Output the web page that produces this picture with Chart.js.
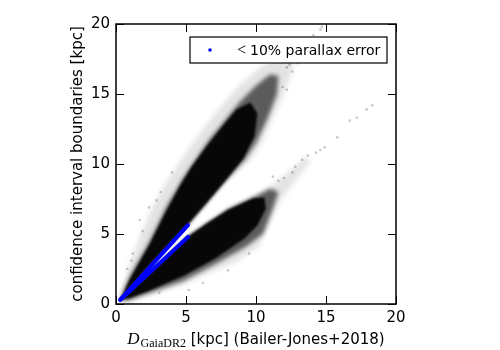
<!DOCTYPE html>
<html>
<head>
<meta charset="utf-8">
<title>Chart</title>
<script src="https://cdn.jsdelivr.net/npm/chart.js"></script>
<style>
    body { margin: 0; background: #fff; }
    #wrap { width: 500px; height: 350px; }
</style>
</head>
<body>
<div id="wrap"><canvas id="myChart"></canvas></div>
<script>
    const xTicks = [0, 5, 10, 15, 20];
    const yTicks = [0, 5, 10, 15, 20];

    // outlines of the dense parts of the two clouds, [D, boundary] in kpc
    const upperHalo = [[0.3,0.3],[0.5,1.3],[1.0,2.9],[1.7,4.8],[2.5,6.7],[3.5,8.5],[4.7,10.4],[6.0,12.2],[7.4,14.0],[8.8,15.6],[10.2,16.8],[11.4,17.6],[12.4,18.1],[12.8,17.6],[12.5,16.4],[11.9,14.8],[11.1,13.0],[10.4,11.5],[9.7,10.4],[8.5,9.3],[7.4,8.4],[6.3,7.1],[5.14,5.7],[3.5,3.95],[2.0,2.3],[0.3,0.3]];
    const upperMid = [[0.3,0.35],[1.0,2.0],[2.36,4.4],[3.57,6.9],[4.8,9.0],[5.6,10.2],[6.7,11.8],[7.6,12.9],[8.8,14.4],[10.0,15.6],[11.0,16.4],[11.6,16.3],[11.5,15.0],[10.8,13.2],[10.0,11.5],[9.2,10.3],[7.86,8.86],[6.5,7.25],[5.14,5.68],[3.5,3.93],[2.0,2.28],[0.3,0.3]];
    const upperCore = [[0.35,0.4],[1.0,1.8],[2.36,4.2],[3.57,6.6],[4.6,8.5],[5.4,9.8],[6.5,11.3],[7.6,12.7],[8.6,13.9],[9.6,14.4],[10.1,13.6],[9.9,12.0],[9.1,10.4],[7.86,8.86],[6.5,7.25],[5.14,5.68],[3.5,3.93],[2.0,2.28],[0.35,0.35]];

    const lowerHalo = [[0.3,0.3],[2.0,1.8],[3.5,3.22],[5.14,4.8],[6.5,5.72],[8.0,6.72],[10.0,7.75],[11.2,8.5],[12.4,9.5],[13.5,10.5],[13.9,10.2],[12.8,8.8],[11.8,7.5],[11.0,5.8],[10.2,4.1],[8.6,3.0],[7.1,2.4],[4.8,1.35],[2.36,0.62],[1.0,0.2],[0.3,0.2]];
    const lowerMid = [[0.3,0.3],[2.0,1.82],[3.5,3.24],[5.14,4.82],[6.5,5.76],[8.0,6.76],[10.0,7.72],[11.0,8.25],[11.6,8.0],[11.2,6.8],[10.5,5.0],[9.3,4.1],[7.1,2.85],[4.8,1.65],[2.36,0.78],[1.0,0.3],[0.3,0.24]];
    const lowerCore = [[0.35,0.32],[2.0,1.82],[3.5,3.24],[5.14,4.82],[6.5,5.76],[8.0,6.74],[9.8,7.55],[10.6,7.6],[10.7,6.8],[10.1,5.6],[9.2,4.7],[7.1,3.25],[4.8,2.0],[2.36,0.95],[1.0,0.42],[0.35,0.28]];

    // scattered stars outside the dense parts
    const sparseStars = [[12.2,16.9],[12.4,17.1],[12.6,16.6],[11.9,15.5],[12.2,15.3],[12.8,17.6],[13.2,18.0],[13.5,18.5],[13.7,18.8],[14.1,19.2],[14.6,19.6],[14.7,19.8],[13.0,17.2],
        [11.2,9.1],[11.6,8.8],[12.0,9.0],[12.6,9.4],[12.8,9.8],[13.3,10.3],[13.7,10.6],[14.3,10.8],[14.6,11.0],[14.9,11.2],[15.8,11.9],[16.7,13.1],[17.2,13.3],[17.9,13.9],[18.3,14.2],
        [1.2,3.6],[2.36,6.9],[1.7,6.0],[2.9,7.4],[1.1,3.1],[3.1,0.8],[6.2,1.5],[0.8,2.5],[1.9,5.2],[3.2,8.0],[4.0,9.4],[8.0,2.4],[9.5,3.6],[5.2,1.0]];

    // stars with < 10% parallax error: upper and lower boundary
    const goodUpper = [[0.3,0.3],[1.5,1.62],[3.0,3.28],[4.2,4.6],[5.14,5.64]];
    const goodLower = [[0.3,0.3],[1.5,1.41],[3.0,2.8],[4.2,3.92],[5.14,4.79]];

    const pts = arr => arr.map(p => ({ x: p[0], y: p[1] }));

    function cloud(arr, alpha, blur, order) {
        return {
            type: 'line',
            data: pts(arr),
            fill: 'shape',
            backgroundColor: 'rgba(0,0,0,' + alpha + ')',
            borderWidth: 0,
            pointRadius: 0,
            tension: 0,
            blur: blur,
            order: order
        };
    }

    function blueLine(arr) {
        return {
            type: 'line',
            data: pts(arr),
            borderColor: '#0000ff',
            borderWidth: 4,
            borderCapStyle: 'round',
            pointRadius: 0,
            fill: false,
            tension: 0,
            order: 0
        };
    }

    // the filler paints in its own beforeDatasetDraw, so the blur for the
    // next dataset is set once the previous one is finished
    function setBlur(chart, meta) {
        const ds = meta ? chart.data.datasets[meta.index] : null;
        chart.ctx.filter = ds && ds.blur ? 'blur(' + ds.blur + 'px)' : 'none';
    }
    const softEdges = {
        id: 'softEdges',
        beforeDatasetsDraw(chart) {
            const metas = chart.getSortedVisibleDatasetMetas();
            setBlur(chart, metas[metas.length - 1]);
        },
        afterDatasetDraw(chart, args) {
            const metas = chart.getSortedVisibleDatasetMetas();
            const k = metas.findIndex(m => m.index === args.index);
            setBlur(chart, metas[k - 1]);
        },
        afterDatasetsDraw(chart) {
            chart.ctx.filter = 'none';
        }
    };

    const frame = {
        id: 'frame',
        afterDatasetsDraw(chart) {
            const ctx = chart.ctx;
            const a = chart.chartArea;
            const xs = chart.scales.x, ys = chart.scales.y;
            ctx.save();
            ctx.filter = 'none';
            ctx.strokeStyle = '#000';
            ctx.lineWidth = 1;
            ctx.beginPath();
            xTicks.forEach(v => {
                const px = Math.round(xs.getPixelForValue(v)) + 0.5;
                ctx.moveTo(px, a.bottom); ctx.lineTo(px, a.bottom - 8);
                ctx.moveTo(px, a.top); ctx.lineTo(px, a.top + 8);
            });
            yTicks.forEach(v => {
                const py = Math.round(ys.getPixelForValue(v)) + 0.5;
                ctx.moveTo(a.left, py); ctx.lineTo(a.left + 8, py);
                ctx.moveTo(a.right, py); ctx.lineTo(a.right - 8, py);
            });
            ctx.stroke();
            ctx.lineWidth = 1.5;
            ctx.strokeRect(a.left, a.top, a.right - a.left, a.bottom - a.top);

            // legend
            const lx = a.left + 74, ly = a.top + 13;
            ctx.fillStyle = '#fff';
            ctx.fillRect(lx, ly, 197, 26);
            ctx.lineWidth = 1.2;
            ctx.strokeRect(lx, ly, 197, 26);
            ctx.fillStyle = '#0000ff';
            ctx.beginPath();
            ctx.arc(lx + 20, ly + 13, 1.8, 0, Math.PI * 2);
            ctx.fill();
            ctx.fillStyle = '#000';
            ctx.textBaseline = 'middle';
            ctx.textAlign = 'left';
            ctx.font = '16px "Liberation Serif"';
            ctx.fillText('<', lx + 47, ly + 14);
            ctx.font = '14px "DejaVu Sans"';
            ctx.fillText('10% parallax error', lx + 60, ly + 14);

            // y title
            ctx.save();
            ctx.translate(82, (a.top + a.bottom) / 2);
            ctx.rotate(-Math.PI / 2);
            ctx.textAlign = 'center';
            ctx.textBaseline = 'alphabetic';
            ctx.font = '15px "DejaVu Sans"';
            ctx.fillText('confidence interval boundaries [kpc]', 0, 0);
            ctx.restore();

            // x title with math part
            const fD = 'italic 17px "Liberation Serif"';
            const fSub = '12px "Liberation Serif"';
            const fTxt = '15px "DejaVu Sans"';
            const rest = ' [kpc] (Bailer-Jones+2018)';
            ctx.font = fD; const wD = ctx.measureText('D').width + 1;
            ctx.font = fSub; const wS = ctx.measureText('GaiaDR2').width;
            ctx.font = fTxt; const wR = ctx.measureText(rest).width;
            let x0 = (a.left + a.right) / 2 - (wD + wS + wR) / 2;
            const base = 344;
            ctx.textAlign = 'left';
            ctx.textBaseline = 'alphabetic';
            ctx.font = fD; ctx.fillText('D', x0, base);
            ctx.font = fSub; ctx.fillText('GaiaDR2', x0 + wD, base + 3);
            ctx.font = fTxt; ctx.fillText(rest, x0 + wD + wS, base);
            ctx.restore();
        }
    };

    const ctx = document.getElementById('myChart');

    new Chart(ctx, {
        type: 'scatter',
        data: {
            datasets: [
                blueLine(goodUpper),
                blueLine(goodLower),
                {
                    type: 'scatter',
                    data: pts(sparseStars),
                    pointRadius: 1.3,
                    borderWidth: 0,
                    backgroundColor: 'rgba(0,0,0,0.22)',
                    order: 1
                },
                cloud(upperCore, 0.92, 1.2, 2),
                cloud(lowerCore, 0.92, 1.2, 2),
                cloud(upperMid, 0.6, 2, 3),
                cloud(lowerMid, 0.6, 2, 3),
                cloud(upperHalo, 0.11, 2.5, 4),
                cloud(lowerHalo, 0.11, 2.5, 4)
            ]
        },
        options: {
            responsive: true,
            maintainAspectRatio: false,
            animation: false,
            layout: { padding: { left: 0, right: 104, top: 24, bottom: 0 } },
            plugins: {
                legend: { display: false },
                tooltip: { enabled: false }
            },
            scales: {
                x: {
                    type: 'linear',
                    min: 0,
                    max: 20,
                    afterBuildTicks: s => { s.ticks = xTicks.map(v => ({ value: v })); },
                    afterFit: s => { s.height = 46; },
                    grid: { display: false, drawTicks: false },
                    border: { display: false },
                    ticks: { color: '#000', padding: 5, maxRotation: 0, font: { family: 'DejaVu Sans', size: 15 } }
                },
                y: {
                    type: 'linear',
                    min: 0,
                    max: 20,
                    afterBuildTicks: s => { s.ticks = yTicks.map(v => ({ value: v })); },
                    afterFit: s => { s.width = 116; },
                    grid: { display: false, drawTicks: false },
                    border: { display: false },
                    ticks: { color: '#000', padding: 6, font: { family: 'DejaVu Sans', size: 15 } }
                }
            }
        },
        plugins: [softEdges, frame]
    });
</script>
</body>
</html>
